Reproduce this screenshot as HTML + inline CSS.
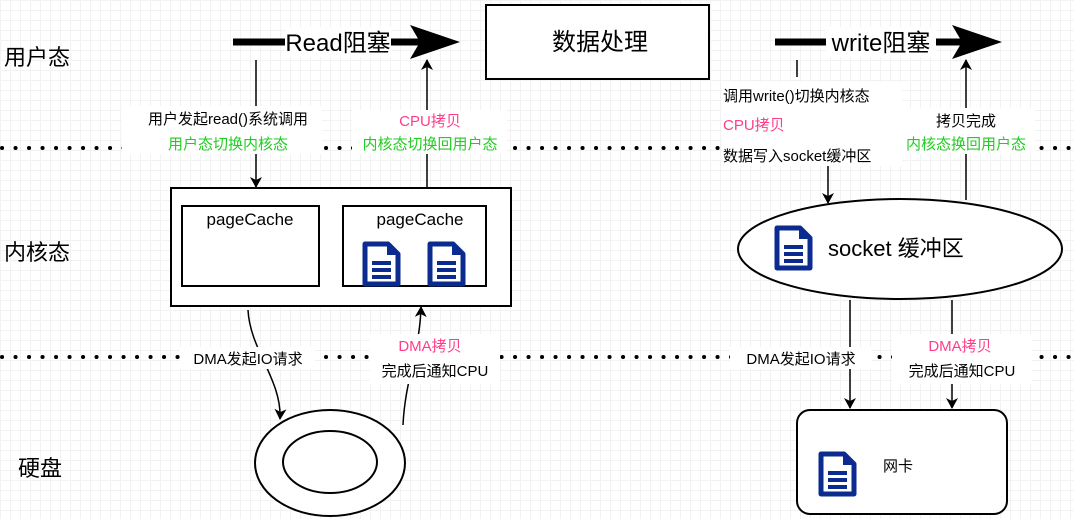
<!DOCTYPE html>
<html><head><meta charset="utf-8"><style>
body{margin:0;width:1074px;height:519px;overflow:hidden;background:#fff;
background-image:linear-gradient(#f2f2f2 1px,transparent 1px),linear-gradient(90deg,#f2f2f2 1px,transparent 1px);background-size:10px 10px;}
</style></head><body>
<svg width="1074" height="519" xmlns="http://www.w3.org/2000/svg" style="position:absolute;left:0;top:0" font-family="Liberation Sans, Noto Sans CJK SC, sans-serif">
<defs>
<marker id="a" markerWidth="12" markerHeight="12" refX="10" refY="6" orient="auto" markerUnits="userSpaceOnUse"><path d="M0,0 L11,6 L0,12 L3,6 z" fill="#000"/></marker>
<g id="doc"><path d="M3,2 H26 L36,12 V42 H3 Z" fill="#fff" stroke="#0b2b8f" stroke-width="5" stroke-linejoin="round"/><path d="M25,2 V13 H36" fill="#0b2b8f"/><rect x="10" y="19" width="19" height="4" fill="#0b2b8f"/><rect x="10" y="26" width="19" height="4" fill="#0b2b8f"/><rect x="10" y="33" width="19" height="4" fill="#0b2b8f"/></g>
</defs>
<g stroke="#000" stroke-width="4" stroke-dasharray="0.1 13.4" stroke-linecap="round"><line x1="2" y1="148" x2="1074" y2="148"/><line x1="2" y1="357" x2="1074" y2="357"/></g>
<g font-size="22" fill="#000"><text x="4" y="65">用户态</text><text x="4" y="260">内核态</text><text x="18" y="476">硬盘</text></g>
<line x1="233" y1="42" x2="425" y2="42" stroke="#000" stroke-width="7"/><path d="M410,25 L460,42 L410,59 L420,42 Z"/>
<rect x="285" y="27" width="106" height="30" fill="#fff"/><text x="338" y="51" font-size="24" text-anchor="middle">Read阻塞</text>
<rect x="486" y="5" width="223" height="74" fill="#fff" stroke="#000" stroke-width="2"/><text x="600" y="50" font-size="24" text-anchor="middle">数据处理</text>
<line x1="775" y1="42" x2="967" y2="42" stroke="#000" stroke-width="7"/><path d="M952,25 L1002,42 L952,59 L962,42 Z"/>
<rect x="826" y="27" width="110" height="30" fill="#fff"/><text x="881" y="51" font-size="24" text-anchor="middle">write阻塞</text>
<line x1="256" y1="60" x2="256" y2="187" stroke="#000" stroke-width="1.5" marker-end="url(#a)"/>
<line x1="427" y1="188" x2="427" y2="60" stroke="#000" stroke-width="1.5" marker-end="url(#a)"/>
<rect x="122" y="106" width="200" height="48" fill="#fff"/>
<text x="228" y="124" font-size="15" text-anchor="middle">用户发起read()系统调用</text>
<text x="228" y="149" font-size="15" text-anchor="middle" fill="#22cc22">用户态切换内核态</text>
<rect x="352" y="110" width="155" height="44" fill="#fff"/>
<text x="430" y="126" font-size="15" text-anchor="middle" fill="#ff3d8b">CPU拷贝</text>
<text x="430" y="149" font-size="15" text-anchor="middle" fill="#22cc22">内核态切换回用户态</text>
<rect x="171" y="188" width="340" height="118" fill="#fff" stroke="#000" stroke-width="2"/>
<rect x="182" y="206" width="137" height="80" fill="#fff" stroke="#000" stroke-width="2"/>
<rect x="343" y="206" width="143" height="80" fill="#fff" stroke="#000" stroke-width="2"/>
<text x="250" y="225" font-size="17" text-anchor="middle">pageCache</text>
<text x="420" y="225" font-size="17" text-anchor="middle">pageCache</text>
<use href="#doc" x="362" y="242"/><use href="#doc" x="427" y="242"/>
<path d="M248,310 C250,350 282,380 280,419" fill="none" stroke="#000" stroke-width="1.5" marker-end="url(#a)"/>
<path d="M403,425 C405,380 420,350 421,307" fill="none" stroke="#000" stroke-width="1.5" marker-end="url(#a)"/>
<rect x="180" y="347" width="135" height="22" fill="#fff"/>
<text x="248" y="364" font-size="15" text-anchor="middle">DMA发起IO请求</text>
<rect x="370" y="334" width="130" height="50" fill="#fff"/>
<text x="430" y="351" font-size="15" text-anchor="middle" fill="#ff3d8b">DMA拷贝</text>
<text x="435" y="376" font-size="15" text-anchor="middle">完成后通知CPU</text>
<ellipse cx="330" cy="463" rx="75" ry="53" fill="#fff" stroke="#000" stroke-width="2"/>
<ellipse cx="330" cy="462" rx="47" ry="31" fill="#fff" stroke="#000" stroke-width="2"/>
<line x1="797" y1="60" x2="797" y2="77" stroke="#000" stroke-width="1.5"/>
<line x1="828" y1="165" x2="828" y2="203" stroke="#000" stroke-width="1.5" marker-end="url(#a)"/>
<rect x="722" y="82" width="180" height="84" fill="#fff"/>
<text x="723" y="101" font-size="15">调用write()切换内核态</text>
<text x="723" y="130" font-size="15" fill="#ff3d8b">CPU拷贝</text>
<text x="723" y="161" font-size="15">数据写入socket缓冲区</text>
<line x1="966" y1="200" x2="966" y2="60" stroke="#000" stroke-width="1.5" marker-end="url(#a)"/>
<rect x="900" y="108" width="135" height="46" fill="#fff"/>
<text x="966" y="126" font-size="15" text-anchor="middle">拷贝完成</text>
<text x="966" y="149" font-size="15" text-anchor="middle" fill="#22cc22">内核态换回用户态</text>
<ellipse cx="900" cy="249" rx="162" ry="50" fill="#fff" stroke="#000" stroke-width="2"/>
<use href="#doc" x="774" y="226"/>
<text x="828" y="256" font-size="22">socket 缓冲区</text>
<line x1="850" y1="300" x2="850" y2="408" stroke="#000" stroke-width="1.5" marker-end="url(#a)"/>
<line x1="952" y1="300" x2="952" y2="408" stroke="#000" stroke-width="1.5" marker-end="url(#a)"/>
<rect x="730" y="347" width="142" height="22" fill="#fff"/>
<text x="801" y="364" font-size="15" text-anchor="middle">DMA发起IO请求</text>
<rect x="892" y="334" width="140" height="50" fill="#fff"/>
<text x="960" y="351" font-size="15" text-anchor="middle" fill="#ff3d8b">DMA拷贝</text>
<text x="962" y="376" font-size="15" text-anchor="middle">完成后通知CPU</text>
<rect x="797" y="410" width="210" height="104" rx="13" fill="#fff" stroke="#000" stroke-width="2"/>
<use href="#doc" x="818" y="452"/>
<text x="883" y="471" font-size="15">网卡</text>
</svg>
</body></html>
